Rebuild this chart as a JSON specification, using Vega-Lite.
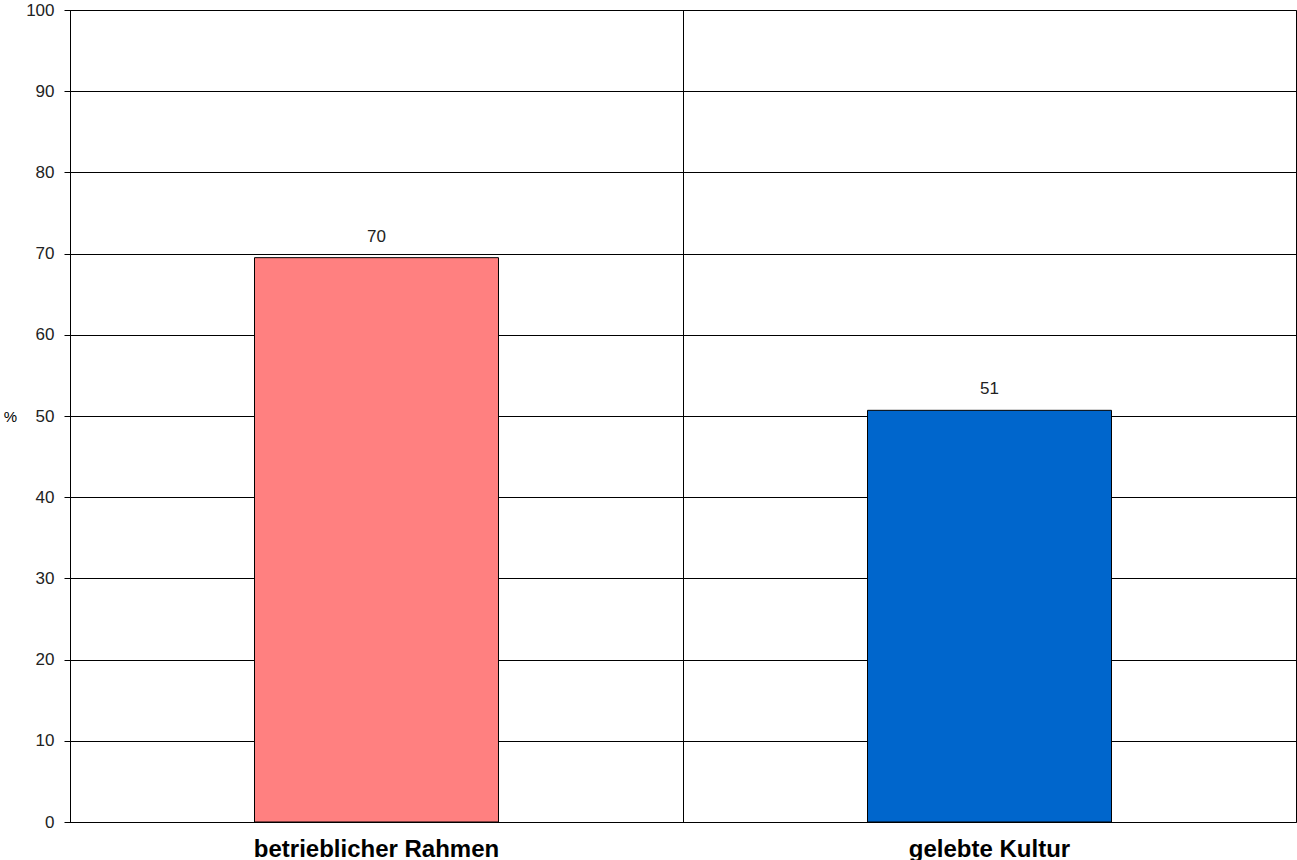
{
  "$schema": "https://vega.github.io/schema/vega-lite/v6.json",
  "width": 1226,
  "height": 812,
  "autosize": {"type": "none"},
  "padding": {"left": 70, "top": 10, "right": 1, "bottom": 38},
  "background": "white",
  "config": {
    "view": {"stroke": "black", "strokeWidth": 1},
    "font": "Liberation Sans"
  },
  "data": {
    "values": [
      {"kategorie": "betrieblicher Rahmen", "prozent": 69.5},
      {"kategorie": "gelebte Kultur", "prozent": 50.7}
    ]
  },
  "encoding": {
    "x": {
      "field": "kategorie",
      "type": "nominal",
      "sort": null,
      "scale": {"paddingInner": 0, "paddingOuter": 0}
    }
  },
  "layer": [
    {
      "mark": {"type": "bar", "width": {"band": 0.398}, "stroke": "black", "strokeWidth": 1},
      "encoding": {
        "x": {
          "field": "kategorie",
          "type": "nominal",
          "sort": null,
          "axis": {
            "title": null,
            "labelAngle": 0,
            "labelFont": "Liberation Sans",
            "labelFontSize": 24,
            "labelFontWeight": "bold",
            "labelColor": "black",
            "labelPadding": 15,
            "labelLimit": 0,
            "ticks": false,
            "domain": false,
            "grid": false
          }
        },
        "y": {
          "field": "prozent",
          "type": "quantitative",
          "scale": {"domain": [0, 100], "nice": false},
          "axis": {
            "title": "%",
            "titleAngle": 0,
            "titleX": -60,
            "titleY": 406,
            "titleAlign": "center",
            "titleBaseline": "middle",
            "titleFont": "Liberation Sans",
            "titleFontSize": 15,
            "titleFontWeight": "normal",
            "titleColor": "black",
            "values": [0, 10, 20, 30, 40, 50, 60, 70, 80, 90, 100],
            "labelFont": "Liberation Sans",
            "labelFontSize": 17,
            "labelColor": "#222222",
            "labelPadding": 10,
            "tickSize": 6,
            "tickColor": "black",
            "domainColor": "black",
            "grid": true,
            "gridColor": "black",
            "gridOpacity": 1,
            "gridWidth": 1
          }
        },
        "color": {
          "field": "kategorie",
          "type": "nominal",
          "scale": {
            "domain": ["betrieblicher Rahmen", "gelebte Kultur"],
            "range": ["#FF8080", "#0066CC"]
          },
          "legend": null
        }
      }
    },
    {
      "mark": {"type": "text", "baseline": "alphabetic", "dy": -16, "fontSize": 17, "color": "#222222", "font": "Liberation Sans"},
      "encoding": {
        "x": {
          "field": "kategorie",
          "type": "nominal",
          "sort": null,
          "axis": {
            "orient": "top",
            "title": null,
            "labels": false,
            "ticks": false,
            "domain": false,
            "grid": true,
            "gridColor": "black",
            "gridOpacity": 1,
            "gridWidth": 1,
            "bandPosition": 0
          }
        },
        "y": {"field": "prozent", "type": "quantitative"},
        "text": {"field": "prozent", "type": "quantitative", "format": ".0f"}
      }
    }
  ],
  "resolve": {"axis": {"x": "independent"}}
}
